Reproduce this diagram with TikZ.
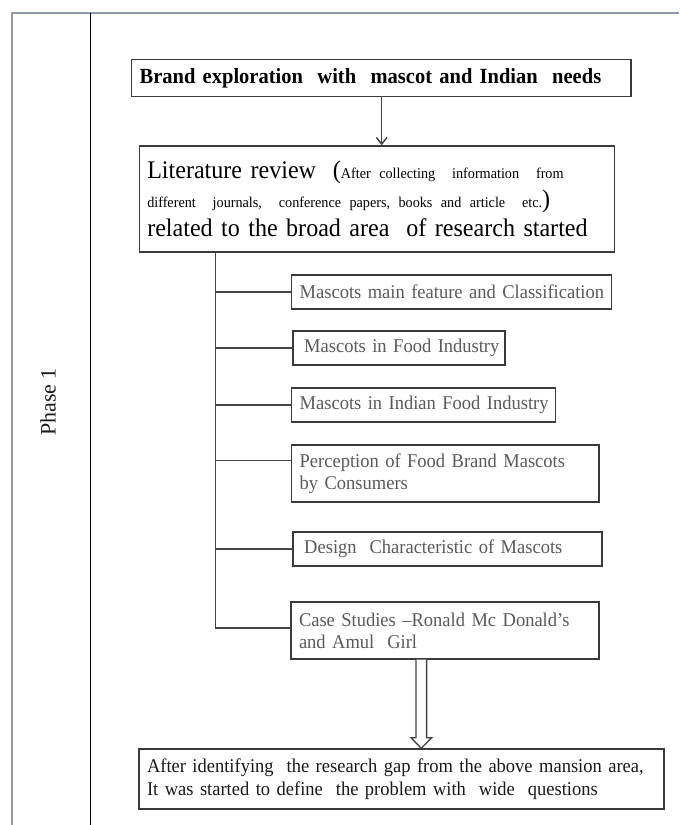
\documentclass[tikz,border=0pt]{standalone}
\usepackage{fontspec}
\setmainfont{Liberation Serif}[FakeStretch=0.95]
\newfontfamily\phasefont{Liberation Serif}
\usetikzlibrary{arrows.meta,calc}
\definecolor{framecol}{HTML}{8E9BA6}
\definecolor{boxline}{HTML}{3A3A3A}
\definecolor{sidetext}{HTML}{5A5A5A}
\definecolor{linecol}{HTML}{454545}
\definecolor{maintext}{HTML}{1A1A1A}
\begin{document}
\begin{tikzpicture}[x=0.75pt,y=-0.75pt,
  box/.style={draw=boxline, line width=1.1pt, inner xsep=6pt, inner ysep=2pt, align=left, fill=white},
  sidebox/.style={box, font=\fontsize{14.6pt}{16.5pt}\selectfont, text=sidetext},
  conn/.style={draw=linecol, line width=1.1pt},
  arr/.style={conn, -{Straight Barb[length=5pt,width=8pt]}},
  hollow/.style={draw=linecol, line width=1pt, fill=white, line join=miter}
]
\useasboundingbox (0,0) rectangle (679,825);
\fill[white] (0,0) rectangle (679,825);
% frame
\draw[framecol, line width=1.3pt] (12,825) -- (12,12.7) -- (679,12.7);
\draw[black, line width=0.8pt] (90.7,12.7) -- (90.7,825);
\node[rotate=90, text=maintext, font=\phasefont\fontsize{16.5pt}{18pt}\selectfont] (phase) at (48,402) {Phase 1};

% top box
\node[box, text width=362.5pt, minimum height=28pt, text=black,
      font=\bfseries\fontsize{16.2pt}{18pt}\selectfont] (top) at (381.35,78)
  {\mbox{Brand exploration \ with \ mascot and Indian \ needs}};

% literature box
\node[box, text width=344.6pt, minimum height=79.5pt, text=black,
      font=\fontsize{19pt}{21.75pt}\selectfont] (lit) at (377,199)
  {\mbox{Literature review \ ({\fontsize{11.2pt}{21.75pt}\selectfont After collecting \ information \ from}}\\
   \mbox{{\fontsize{11.2pt}{21.75pt}\selectfont different \ journals, \ conference papers, books and article \ etc.})}\\
   \mbox{related to the broad area \ of research started}};

% side boxes
\node[sidebox, text width=228pt, minimum height=25.5pt] (s1) at (451.7,292)
  {\mbox{Mascots main feature and Classification}};
\node[sidebox, text width=147pt, minimum height=25.5pt] (s2) at (399,348)
  {\mbox{\,Mascots in Food Industry}};
\node[sidebox, text width=186pt, minimum height=25.5pt] (s3) at (423.7,405)
  {\mbox{Mascots in Indian Food Industry}};
\node[sidebox, text width=218.5pt, minimum height=42.75pt] (s4) at (445.35,473.5)
  {Perception of Food Brand Mascots\\by Consumers};
\node[sidebox, text width=219.75pt, minimum height=25.5pt] (s5) at (447.5,549)
  {\mbox{\,Design \ Characteristic of Mascots}};
\node[sidebox, text width=219pt, minimum height=42.75pt] (s6) at (445,630.5)
  {Case Studies –Ronald Mc Donald’s\\and Amul \ Girl};

% bottom box
\node[box, text width=381.75pt, minimum height=45pt, text=maintext,
      font=\fontsize{14.6pt}{17.25pt}\selectfont] (bot) at (401.5,779)
  {\mbox{After identifying \ the research gap from the above mansion area,}\\
   \mbox{It was started to define \ the problem with \ wide \ questions}};

% connectors
\draw[arr] (top.south -| 381.7,0) -- (lit.north -| 381.7,0);
\coordinate (tr) at (215.7,252);
\coordinate (b4) at ($(s4.north west)!0.281!(s4.south west)$);
\coordinate (b6) at ($(s6.north west)!0.456!(s6.south west)$);
\draw[conn] (tr) -- (tr |- b6) -- (b6);
\draw[conn] (tr |- s1.west) -- (s1.west);
\draw[conn] (tr |- s2.west) -- (s2.west);
\draw[conn] (tr |- s3.west) -- (s3.west);
\draw[conn] (tr |- b4) -- (b4);
\draw[conn] (tr |- s5.west) -- (s5.west);

% hollow block arrow from case studies to bottom box
\coordinate (ha) at (s6.south -| 421.3,0);
\coordinate (hb) at (bot.north -| 421.3,0);
\draw[hollow] ($(ha)+(-5.3,0)$) -- ($(hb)+(-5.3,-10.5)$) -- ($(hb)+(-10.3,-10.5)$) -- (hb)
  -- ($(hb)+(10.3,-10.5)$) -- ($(hb)+(5.3,-10.5)$) -- ($(ha)+(5.3,0)$);
\end{tikzpicture}
\end{document}
